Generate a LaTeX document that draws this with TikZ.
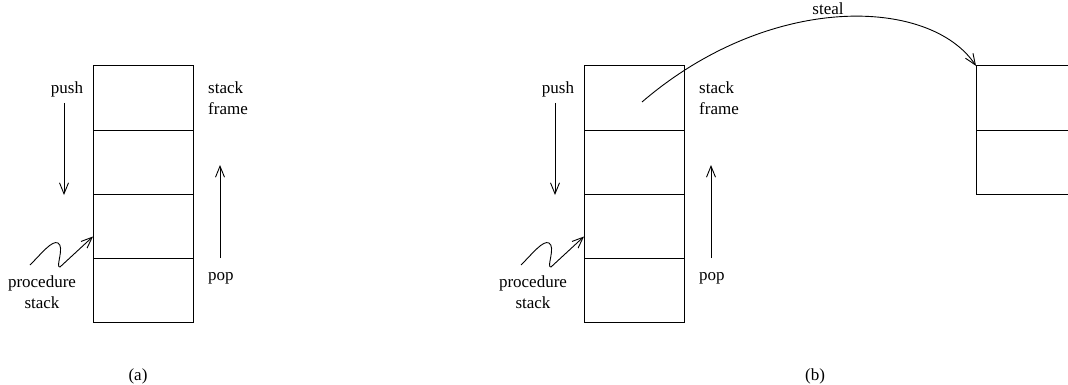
\documentclass[tikz,border=0pt]{standalone}
\usepackage{fontspec}
\setmainfont{Liberation Serif}
\usetikzlibrary{arrows.meta,positioning}

\tikzset{
  frame/.style={draw, line width=1pt, minimum width=100pt, minimum height=64.25pt, inner sep=0pt, outer sep=0pt},
  lbl/.style={font=\fontsize{17}{21}\selectfont, inner sep=0pt},
  arr/.style={line width=0.9pt, -{Straight Barb[length=11pt,width=9pt]}}
}

\begin{document}
\begin{tikzpicture}[x=1pt,y=-1pt]
 \useasboundingbox (0,0) rectangle (1068,385);
 \begin{scope}
  % the procedure stack
  \node[frame] (a1) at (143,98) {};
  \node[frame, below=0pt of a1] (a2) {};
  \node[frame, below=0pt of a2] (a3) {};
  \node[frame, below=0pt of a3] (a4) {};
  % labels
  \node[lbl, anchor=base] (pusha) at (67,94) {push};
  \node[lbl, anchor=north west, align=left] (framea) at (208,82) {stack\\frame};
  \node[lbl, anchor=base west] (popa) at (208,280) {pop};
  \node[lbl, anchor=north, align=center] (proca) at (42,276) {procedure\\stack};
  \node[lbl, anchor=base] (capa) at (138,380) {(a)};
  % arrows
  \coordinate (pushatop) at (64,103);
  \coordinate (pushabot) at (64,195);
  \coordinate (popabot) at (220,258);
  \coordinate (popatop) at (220,165);
  \draw[arr] (pushatop) -- (pushabot);
  \draw[arr] (popabot) -- (popatop);
  \coordinate (sqa) at (30,265);
  \coordinate (pka) at (58,243);
  \coordinate (dpa) at (60,267);
  \coordinate (tipa) at ([yshift=-10pt]a3.west);
  \draw[arr] (sqa) .. controls (42,253) and (52,240) .. (pka)
    .. controls (65,247) and (55,268) .. (dpa) -- (tipa);
 \end{scope}
 \begin{scope}[xshift=491pt]
  % the stack being stolen from
  \node[frame] (b1) at (143,98) {};
  \node[frame, below=0pt of b1] (b2) {};
  \node[frame, below=0pt of b2] (b3) {};
  \node[frame, below=0pt of b3] (b4) {};
  % labels
  \node[lbl, anchor=base] (pushb) at (67,94) {push};
  \node[lbl, anchor=north west, align=left] (frameb) at (208,82) {stack\\frame};
  \node[lbl, anchor=base west] (popb) at (208,280) {pop};
  \node[lbl, anchor=north, align=center] (procb) at (42,276) {procedure\\stack};
  \node[lbl, anchor=base] (capb) at (324,380) {(b)};
  % arrows
  \coordinate (pushbtop) at (64,103);
  \coordinate (pushbbot) at (64,195);
  \coordinate (popbbot) at (220,258);
  \coordinate (popbtop) at (220,165);
  \draw[arr] (pushbtop) -- (pushbbot);
  \draw[arr] (popbbot) -- (popbtop);
  \coordinate (sqb) at (30,265);
  \coordinate (pkb) at (58,243);
  \coordinate (dpb) at (60,267);
  \coordinate (tipb) at ([yshift=-10pt]b3.west);
  \draw[arr] (sqb) .. controls (42,253) and (52,240) .. (pkb)
    .. controls (65,247) and (55,268) .. (dpb) -- (tipb);
  \coordinate (stealfrom) at (151,102);
 \end{scope}
 % the thief's stack, cut by the right margin
 \begin{scope}
  \clip (0,0) rectangle (1068,385);
  \node[frame] (r1) at (1026,98) {};
  \node[frame, below=0pt of r1] (r2) {};
 \end{scope}
 \draw[arr] (stealfrom) .. controls (770,-8) and (930,-3) .. (r1.north west);
 \node[lbl, anchor=base] (steal) at (828,15) {steal};
\end{tikzpicture}
\end{document}
